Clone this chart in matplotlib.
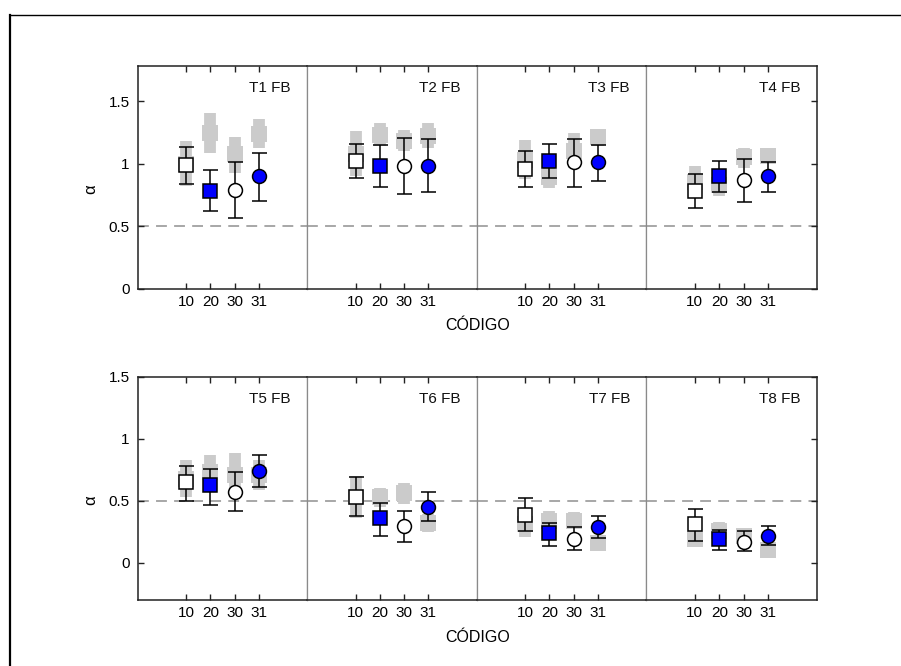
import matplotlib
matplotlib.use("Agg")
import matplotlib.pyplot as plt
from matplotlib.lines import Line2D

plt.rcParams['font.family'] = ['Liberation Sans', 'DejaVu Sans']

# --- data -------------------------------------------------------------
codes = ["10", "20", "30", "31"]
panel_titles = ["T1 FB", "T2 FB", "T3 FB", "T4 FB",
                "T5 FB", "T6 FB", "T7 FB", "T8 FB"]

# estimate (black markers) with lower / upper limits
alpha_val = [
    [0.99, 0.78, 0.79, 0.90],
    [1.02, 0.98, 0.98, 0.98],
    [0.96, 1.02, 1.01, 1.01],
    [0.78, 0.90, 0.87, 0.90],
    [0.65, 0.63, 0.57, 0.74],
    [0.53, 0.36, 0.30, 0.45],
    [0.39, 0.24, 0.19, 0.29],
    [0.31, 0.19, 0.17, 0.22],
]
alpha_lo = [
    [0.835, 0.62, 0.57, 0.70],
    [0.886, 0.814, 0.758, 0.771],
    [0.811, 0.886, 0.811, 0.859],
    [0.648, 0.771, 0.696, 0.771],
    [0.497, 0.47, 0.422, 0.612],
    [0.382, 0.219, 0.168, 0.334],
    [0.259, 0.133, 0.107, 0.197],
    [0.179, 0.107, 0.093, 0.147],
]
alpha_hi = [
    [1.136, 0.95, 1.01, 1.083],
    [1.158, 1.147, 1.208, 1.198],
    [1.099, 1.158, 1.198, 1.147],
    [0.92, 1.022, 1.035, 1.016],
    [0.783, 0.759, 0.735, 0.868],
    [0.692, 0.481, 0.419, 0.572],
    [0.526, 0.318, 0.286, 0.374],
    [0.438, 0.265, 0.253, 0.297],
]

# reference estimate (grey background marks)
ref_val = [
    [1.00, 1.245, 1.08, 1.24],
    [1.08, 1.23, 1.18, 1.22],
    [1.03, 0.89, 1.105, 1.21],
    [0.855, 0.83, 1.05, 1.06],
    [0.68, 0.73, 0.71, 0.71],
    [0.53, 0.53, 0.56, 0.32],
    [0.31, 0.34, 0.34, 0.16],
    [0.19, 0.26, 0.22, 0.10],
]
ref_lo = [
    [0.822, 1.083, 0.923, 1.128],
    [0.90, 1.14, 1.10, 1.125],
    [0.875, 0.81, 0.968, 1.14],
    [0.728, 0.742, 0.968, 0.995],
    [0.532, 0.598, 0.532, 0.585],
    [0.358, 0.451, 0.478, 0.245],
    [0.211, 0.265, 0.27, 0.104],
    [0.139, 0.184, 0.16, 0.059],
]
ref_hi = [
    [1.184, 1.405, 1.216, 1.355],
    [1.26, 1.325, 1.27, 1.325],
    [1.19, 0.97, 1.243, 1.28],
    [0.979, 0.918, 1.126, 1.126],
    [0.828, 0.868, 0.89, 0.828],
    [0.703, 0.606, 0.642, 0.393],
    [0.414, 0.42, 0.41, 0.213],
    [0.24, 0.329, 0.28, 0.147],
]

row_ylim = [(0.0, 1.78), (-0.3, 1.5)]
row_yticks = [[0, 0.5, 1, 1.5], [0, 0.5, 1, 1.5]]
ytick_labels = ["0", "0.5", "1", "1.5"]
threshold = 0.5

# --- styling ---------------------------------------------------------
marker_shapes = ["s", "s", "o", "o"]
marker_faces = ["white", "#0000ff", "white", "#0000ff"]
GREY = "#cbcbcb"
FRAME = "#222222"
DIVIDER = "#8a8a8a"

W, H = 901, 666
fig = plt.figure(figsize=(W / 100, H / 100), dpi=100)

edges_px = [138, 307, 477, 646, 817]
rows_px = [(66, 289), (377, 600)]

axes = []
for r in range(2):
    top, bot = rows_px[r]
    for c in range(4):
        x0, x1 = edges_px[c], edges_px[c + 1]
        ax = fig.add_axes([x0 / W, 1 - bot / H, (x1 - x0) / W, (bot - top) / H])
        axes.append((r, c, ax))

xpos = list(range(len(codes)))

for idx, (r, c, ax) in enumerate(axes):
    ax.set_xlim(-2, 5)
    ax.set_ylim(*row_ylim[r])
    ax.axhline(threshold, color="#a0a0a0", lw=1.3, dashes=(6, 4), zorder=1)

    for k in xpos:
        # grey reference marks
        rv, rl, rh = ref_val[idx][k], ref_lo[idx][k], ref_hi[idx][k]
        ax.errorbar([k], [rv], yerr=[[rv - rl], [rh - rv]], fmt="s",
                    color=GREY, ms=12, mec=GREY, mew=0,
                    elinewidth=8.5, capsize=6, capthick=5.5, zorder=2)
        # black estimate
        v, lo, hi = alpha_val[idx][k], alpha_lo[idx][k], alpha_hi[idx][k]
        ax.errorbar([k], [v], yerr=[[v - lo], [hi - v]], fmt="none",
                    ecolor="black", elinewidth=1.1, capsize=5.4, capthick=1.1,
                    zorder=3)
        ax.plot([k], [v], marker=marker_shapes[k], ms=10,
                mfc=marker_faces[k], mec="black", mew=1.1, ls="none", zorder=4)

    ax.set_xticks(xpos)
    ax.set_xticklabels(codes, fontsize=11)
    ax.tick_params(axis="x", which="both", direction="in", top=True,
                   bottom=True, length=4.3, width=1, color=FRAME, pad=4)

    ax.set_yticks(row_yticks[r])
    if c == 0:
        ax.set_yticklabels(ytick_labels, fontsize=11)
        ax.tick_params(axis="y", direction="in", left=True, right=False,
                       length=4.3, width=1, color=FRAME, pad=6)
    elif c == 3:
        ax.tick_params(axis="y", direction="in", left=False, right=True,
                       labelleft=False, length=4.3, width=1, color=FRAME)
    else:
        ax.tick_params(axis="y", left=False, right=False, labelleft=False)

    for side in ("top", "bottom"):
        ax.spines[side].set_color(FRAME)
        ax.spines[side].set_linewidth(1.1)
    ax.spines["left"].set_color(FRAME if c == 0 else DIVIDER)
    ax.spines["right"].set_color(FRAME if c == 3 else DIVIDER)
    ax.spines["left"].set_linewidth(1.1 if c == 0 else 0.9)
    ax.spines["right"].set_linewidth(1.1 if c == 3 else 0.9)

    ax.text(0.905, 0.9, panel_titles[idx], transform=ax.transAxes,
            ha="right", va="center", fontsize=11, color="#111111")

# shared labels
for r in range(2):
    top, bot = rows_px[r]
    fig.text(478 / W, 1 - (bot + 37) / H, "CÓDIGO", ha="center", va="center",
             fontsize=11.5)
    fig.text(91 / W, 1 - ((top + bot) / 2 + 12) / H, "α", ha="center",
             va="center", fontsize=12, rotation=90)

# page frame on top and left
fig.add_artist(Line2D([9.5 / W, 1.0], [1 - 14.5 / H, 1 - 14.5 / H],
                      transform=fig.transFigure, color="black", lw=1.0))
fig.add_artist(Line2D([9.5 / W, 9.5 / W], [0.0, 1 - 14.5 / H],
                      transform=fig.transFigure, color="black", lw=1.6))

fig.savefig("out.png", dpi=100)
